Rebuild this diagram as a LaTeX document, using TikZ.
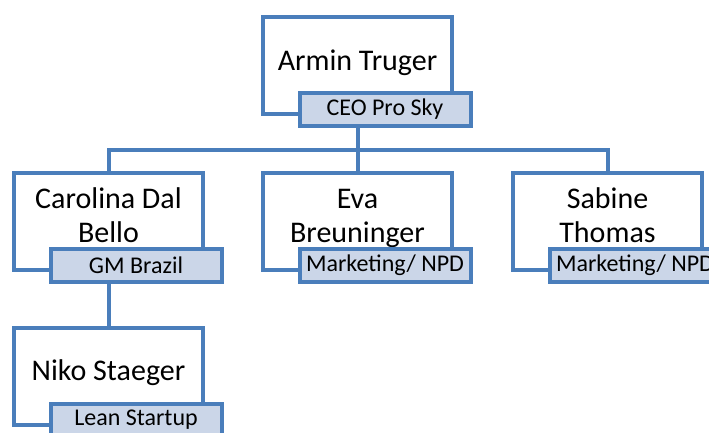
\documentclass[tikz,border=0pt]{standalone}
\usepackage{fontspec}
\setmainfont{Carlito}
\usetikzlibrary{positioning, calc, backgrounds}
\definecolor{orgblue}{RGB}{74,126,187}
\definecolor{rolefill}{RGB}{203,214,232}
\tikzset{
  person/.style = {draw=orgblue, fill=white, line width=4pt, minimum width=189,
                   minimum height=97, inner sep=0pt, line join=miter},
  who/.style    = {align=center, font=\fontsize{30}{34}\selectfont, inner sep=0pt,
                   text depth=7pt},
  role/.style   = {draw=orgblue, fill=rolefill, line width=4pt, minimum width=171,
                   minimum height=33, inner sep=0pt,
                   font=\fontsize{24}{28}\selectfont},
  link/.style   = {draw=orgblue, line width=4pt, line join=miter}
}

\begin{document}
\begin{tikzpicture}[x=1pt, y=-1pt]
\useasboundingbox (0,0) rectangle (709,432);
% ---- People (box, name, role tag) ----
\foreach \id/\cx/\cy/\who/\job in {%
  armin/357.5/65.5/{Armin Truger}/{CEO Pro Sky},
  carolina/108.5/221/{Carolina Dal\\Bello}/{GM Brazil},
  eva/357.5/221/{Eva\\Breuninger}/{Marketing/ NPD},
  sabine/607.5/221/{Sabine\\Thomas}/{Marketing/ NPD},
  niko/108.5/376/{Niko Staeger}/{Lean Startup}} {
  \node[person] (\id) at (\cx,\cy) {};
  \node[who] (\id-name) at (\cx,\cy-2) {\who};
  \node[role] (\id-role) at (\cx+27.5,\cy+44) {\job};
}

% ---- Reporting lines ----
\coordinate (bus) at (0,150);
\begin{scope}[on background layer]
  \draw[link] (armin.south) -- (armin.south |- bus);
  \draw[link] (carolina.north) -- (carolina.north |- bus)
              -- (sabine.north |- bus) -- (sabine.north);
  \draw[link] (eva.north) -- (eva.north |- bus);
  \draw[link] (carolina.south) -- (niko.north);
\end{scope}
\end{tikzpicture}
\end{document}
